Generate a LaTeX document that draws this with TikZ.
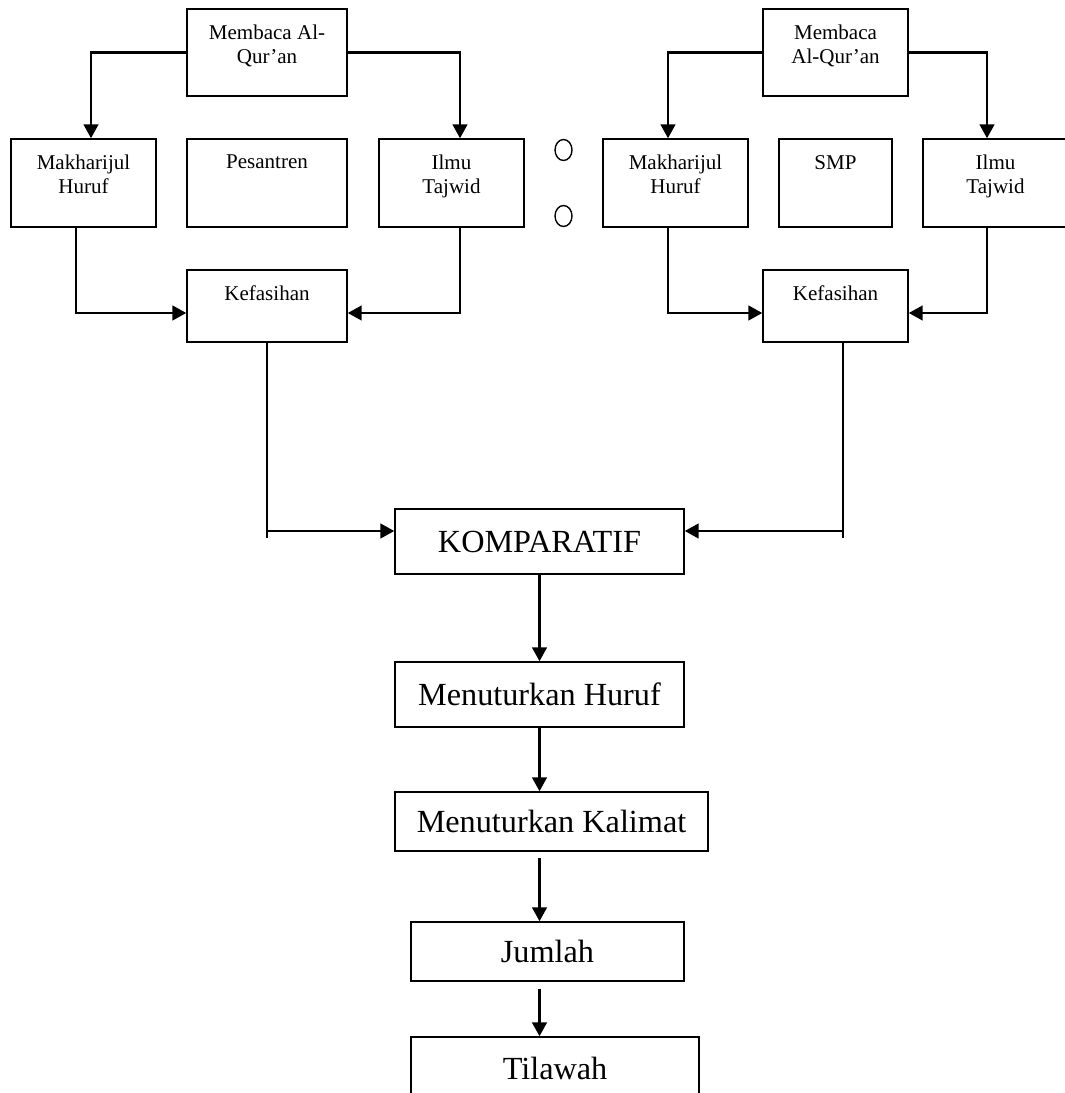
\documentclass[tikz,border=0pt]{standalone}
\usepackage{fontspec}
\setmainfont{Liberation Serif}
\usepackage{tikz}
\usetikzlibrary{arrows.meta}
\usetikzlibrary{shapes.geometric}
\newcommand{\sat}{0.58pt}
\newcommand{\kecil}{\fontsize{12.2}{13.8}\selectfont}
\newcommand{\besar}{\fontsize{18.7}{21}\selectfont}
\tikzset{
  kotak/.style 2 args={draw, line width=0.9pt, inner sep=0pt, minimum width=#1*\sat, minimum height=#2*\sat},
  isi/.style={label={[below=9.6pt, align=center, inner sep=0pt, font=\kecil]north:#1}},
  panah/.style={line width=1.25pt, -{Triangle[length=8pt,width=8.5pt]}},
  garis/.style={line width=0.9pt},
  bulat/.style={draw, ellipse, line width=0.8pt, inner sep=0pt, minimum width=17*\sat, minimum height=21*\sat}
}

\begin{document}
\begin{tikzpicture}[x=0.58pt, y=-0.58pt, font=\besar]
\useasboundingbox (0,0) rectangle (1065,1093);
% kelompok kiri (Pesantren)
\node[kotak={160}{87}, isi={Membaca Al-\\Qur’an}] (memL) at (267,52.5) {};
\node[kotak={145}{88}, isi={Makharijul\\Huruf}] (makL) at (83.5,183) {};
\node[kotak={160}{88}, isi={Pesantren}] (pes) at (267,183) {};
\node[kotak={145}{88}, isi={Ilmu\\Tajwid}] (ilmL) at (451.5,183) {};
\node[kotak={160}{72}, isi={Kefasihan}] (kefL) at (267,306) {};
% kelompok kanan (SMP)
\node[kotak={145}{87}, isi={Membaca\\Al-Qur’an}] (memR) at (835.5,52.5) {};
\node[kotak={145}{88}, isi={Makharijul\\Huruf}] (makR) at (675.5,183) {};
\node[kotak={113}{88}, isi={SMP}] (smp) at (835.5,183) {};
\node[kotak={145}{88}, isi={Ilmu\\Tajwid}] (ilmR) at (995.5,183) {};
\node[kotak={145}{72}, isi={Kefasihan}] (kefR) at (835.5,306) {};
\foreach \y/\n in {150/1, 216/2} {
  \node[bulat] (o\n) at (563.5,\y) {};
}
% kolom tengah
\node[kotak={289}{65}] (komp) at (539.5,541.5) {KOMPARATIF};
\node[kotak={289}{65}] (mhur) at (539.5,694.5) {Menuturkan Huruf};
\node[kotak={313}{59}] (mkal) at (551.5,821.5) {Menuturkan Kalimat};
\node[kotak={273}{59}] (jml) at (547.5,951.5) {Jumlah};
\node[kotak={288}{62}] (til) at (555,1068) {Tilawah};
% panah kiri
\draw[panah] (memL.west) -| ([xshift=7.5*\sat]makL.north);
\draw[panah] (memL.east) -| ([xshift=8.5*\sat]ilmL.north);
\draw[panah] ([xshift=-7.5*\sat]makL.south) |- ([yshift=-7*\sat]kefL.west);
\draw[panah] ([xshift=8.5*\sat]ilmL.south) |- ([yshift=-7*\sat]kefL.east);
% panah kanan
\draw[panah] (memR.west) -| ([xshift=-7.5*\sat]makR.north);
\draw[panah] (memR.east) -| ([xshift=-8.5*\sat]ilmR.north);
\draw[panah] ([xshift=-7.5*\sat]makR.south) |- ([yshift=-7*\sat]kefR.west);
\draw[panah] ([xshift=-8.5*\sat]ilmR.south) |- ([yshift=-7*\sat]kefR.east);
% ke KOMPARATIF
\draw[garis] (kefL.south) -- ++(0,195);
\draw[garis] ([xshift=7.5*\sat]kefR.south) -- ++(0,195);
\draw[panah] (kefL.south) |- ([yshift=10.5*\sat]komp.west);
\draw[panah] ([xshift=7.5*\sat]kefR.south) |- ([yshift=10.5*\sat]komp.east);
% ke bawah
\draw[panah] (komp) -- (mhur);
\draw[panah] (mhur.south) -- (mhur.south |- mkal.north);
\draw[panah, shorten <=3.5pt] (mhur.south |- mkal.south) -- (mhur.south |- jml.north);
\draw[panah, shorten <=4pt] (mhur.south |- jml.south) -- (mhur.south |- til.north);
\end{tikzpicture}
\end{document}
